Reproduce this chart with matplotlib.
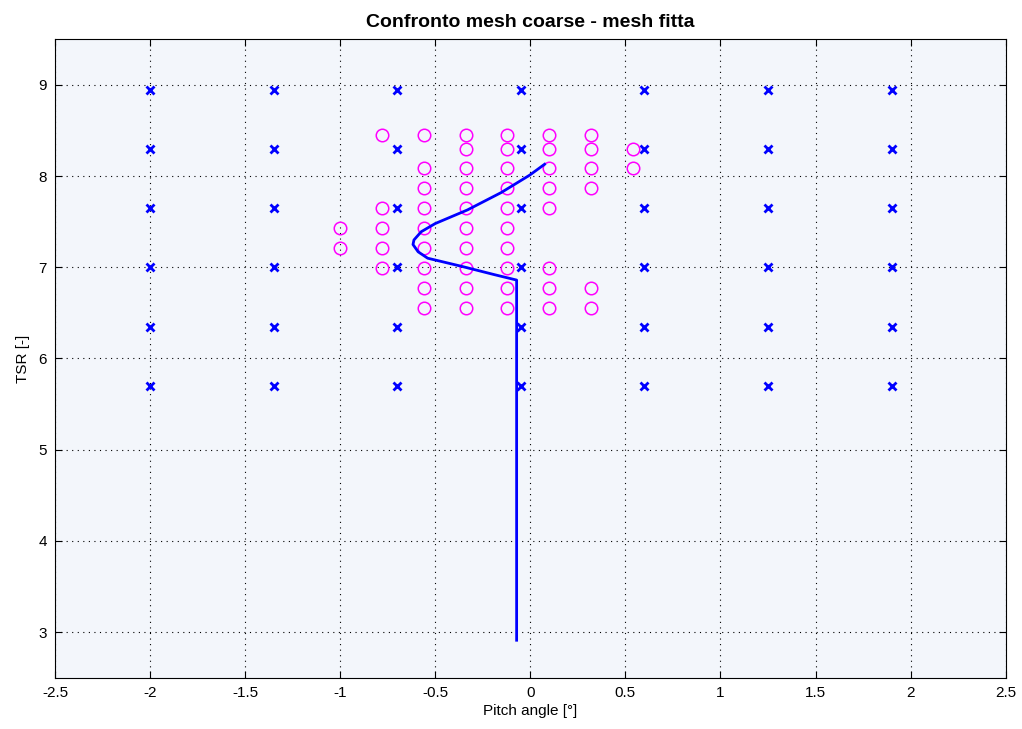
import numpy as np
import matplotlib
matplotlib.use('Agg')
import matplotlib.pyplot as plt

# coarse mesh (blue crosses)
coarse_pitch = [-2.0, -1.35, -0.7, -0.05, 0.6, 1.25, 1.9]
coarse_tsr = [5.7, 6.35, 7.0, 7.65, 8.3, 8.95]

# fine mesh (magenta circles), row by row: tsr -> list of pitch
fine_rows = {
    8.45: [-0.78, -0.56, -0.34, -0.12, 0.10, 0.32],
    8.30: [-0.34, -0.12, 0.10, 0.32, 0.54],
    8.09: [-0.56, -0.34, -0.12, 0.10, 0.32, 0.54],
    7.87: [-0.56, -0.34, -0.12, 0.10, 0.32],
    7.65: [-0.78, -0.56, -0.34, -0.12, 0.10],
    7.43: [-1.0, -0.78, -0.56, -0.34, -0.12],
    7.21: [-1.0, -0.78, -0.56, -0.34, -0.12],
    6.99: [-0.78, -0.56, -0.34, -0.12, 0.10],
    6.77: [-0.56, -0.34, -0.12, 0.10, 0.32],
    6.55: [-0.56, -0.34, -0.12, 0.10, 0.32],
}

# optimal path (blue line)
path_pitch = [-0.072, -0.072, -0.19, -0.36, -0.54, -0.59, -0.617, -0.612, -0.574,
              -0.50, -0.33, -0.153, -0.004, 0.075]
path_tsr = [2.91, 6.86, 6.92, 7.01, 7.10, 7.17, 7.25, 7.30, 7.39,
            7.48, 7.63, 7.82, 8.01, 8.13]

plt.rcParams['font.family'] = ['Liberation Sans', 'DejaVu Sans']

fig = plt.figure(figsize=(10.22, 7.29), dpi=100)
ax = fig.add_axes([0.0538, 0.0705, 0.9302, 0.8755])
ax.set_facecolor('#f3f6fb')

cx, cy = np.meshgrid(coarse_pitch, coarse_tsr)
ax.plot(cx.ravel(), cy.ravel(), 'x', color='#0000ff', markersize=5.5, markeredgewidth=2, zorder=3)

fx = [p for t, ps in fine_rows.items() for p in ps]
fy = [t for t, ps in fine_rows.items() for p in ps]
ax.plot(fx, fy, 'o', markerfacecolor='none', markeredgecolor='#ff00ff', markersize=9, markeredgewidth=1.1, zorder=3)

ax.plot(path_pitch, path_tsr, '-', color='#0000ff', linewidth=2, zorder=4)

ax.set_xlim(-2.5, 2.5)
ax.set_ylim(2.5, 9.5)
ax.set_xticks(np.arange(-2.5, 2.51, 0.5))
ax.set_xticklabels(['-2.5', '-2', '-1.5', '-1', '-0.5', '0', '0.5', '1', '1.5', '2', '2.5'])
ax.set_yticks([3, 4, 5, 6, 7, 8, 9])
ax.grid(True, color='black', linestyle=(0, (1, 4)), linewidth=0.8)
ax.tick_params(direction='in', top=True, right=True, length=5, labelsize=11, pad=6)
for s in ax.spines.values():
    s.set_linewidth(0.8)

ax.set_xlabel('Pitch angle [°]', fontsize=11, labelpad=3)
ax.set_ylabel('TSR [-]', fontsize=11, labelpad=6)
ax.set_title('Confronto mesh coarse - mesh fitta', fontsize=14, fontweight='bold', pad=9)

fig.savefig('out.png', dpi=100)
